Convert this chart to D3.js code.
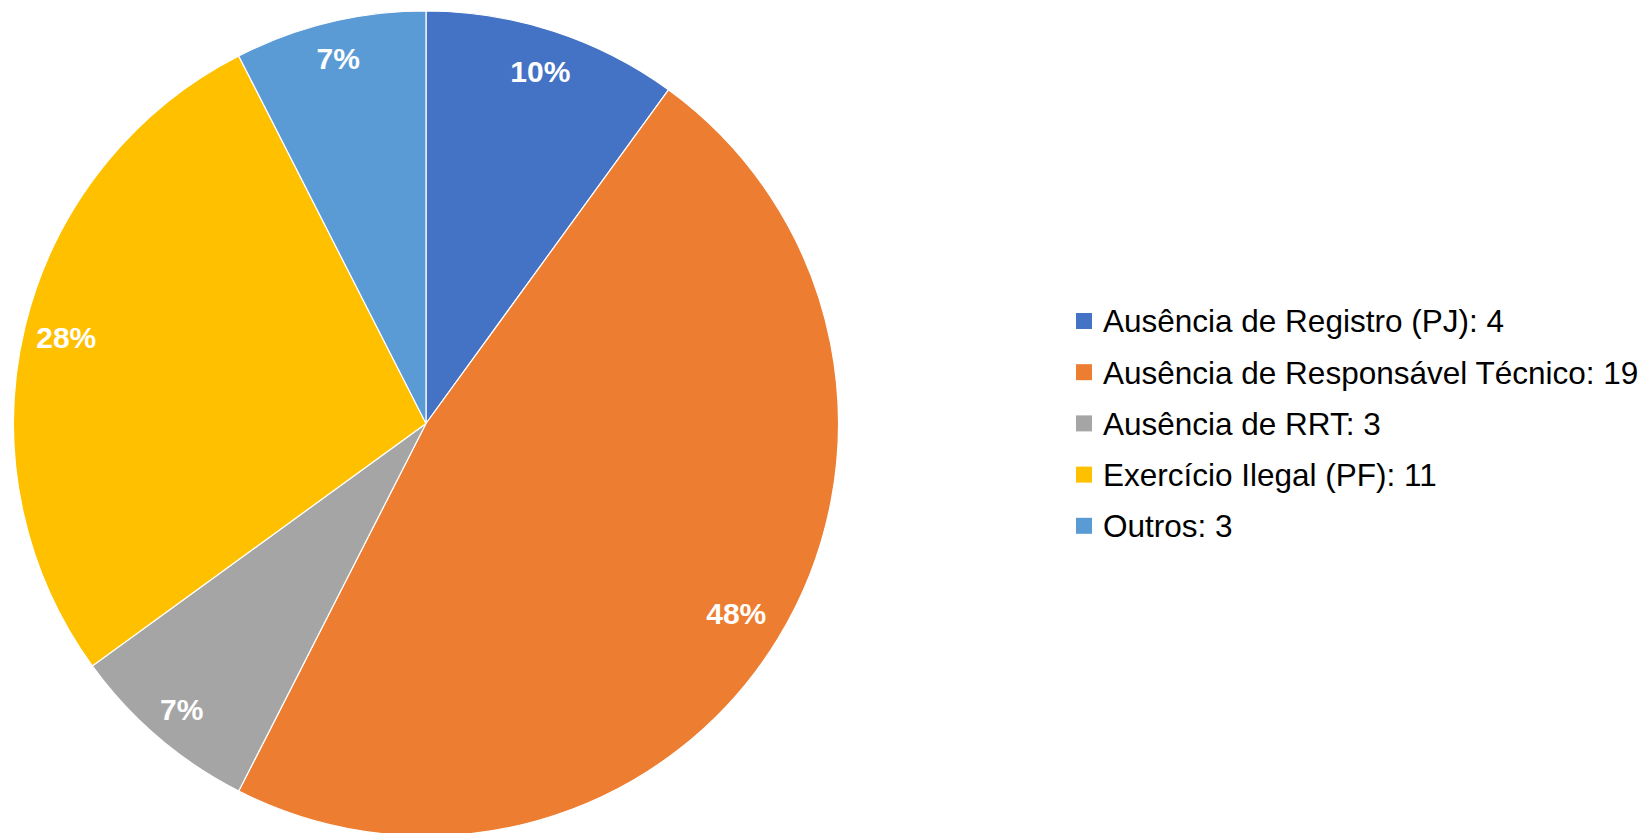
<!DOCTYPE html>
<html>
<head>
<meta charset="utf-8">
<script src="https://cdn.jsdelivr.net/npm/d3@7"></script>
<style>
  body { margin: 0; background: #fff; }
  svg { display: block; }
</style>
</head>
<body>
<div id="chart"></div>
<script>
// Data
const categories = ["Ausência de Registro (PJ)", "Ausência de Responsável Técnico", "Ausência de RRT", "Exercício Ilegal (PF)", "Outros"];
const counts = [4, 19, 3, 11, 3];
const pctLabels = ["10%", "48%", "7%", "28%", "7%"];
const colors = ["#4472C4", "#ED7D31", "#A5A5A5", "#FFC000", "#5B9BD5"];

const width = 1652;
const height = 833;
const cx = 426, cy = 423.5, radius = 412.5;

const data = categories.map((c, i) => ({ name: c, count: counts[i], label: pctLabels[i] }));

const color = d3.scaleOrdinal()
                .domain(categories)
                .range(colors);

const svg = d3.select("#chart")
  .append("svg")
  .attr("width", width)
  .attr("height", height);

// Pie
const pie = d3.pie()
  .value(d => d.count)
  .sort(null);

const arc = d3.arc()
  .innerRadius(0)
  .outerRadius(radius);

// small slices get their label a bit further out, like the original
const labelPos = function(d) {
  const share = (d.endAngle - d.startAngle) / (2 * Math.PI);
  const r = radius * (share < 0.09 ? 0.912 : (share > 0.4 ? 0.882 : 0.897));
  return d3.arc().innerRadius(r).outerRadius(r).centroid(d);
}

const g = svg.append("g")
  .attr("transform", `translate(${cx},${cy})`);

const arcs = pie(data);

g.selectAll(".slice")
  .data(arcs)
  .enter()
  .append("path")
    .attr("class", "slice")
    .attr("d", arc)
    .style("fill", d => color(d.data.name))
    .style("stroke", "#fff")
    .style("stroke-width", 1.2);

// Percent labels
g.selectAll(".pct")
  .data(arcs)
  .enter()
  .append("text")
    .attr("class", "pct")
    .attr("transform", d => `translate(${labelPos(d)})`)
    .attr("text-anchor", "middle")
    .attr("dy", "0.36em")
    .style("font-family", "'Liberation Sans', Arial, sans-serif")
    .style("font-weight", "bold")
    .style("font-size", "30px")
    .style("fill", "#fff")
    .text(d => d.data.label);

// Legend
const legend = svg.append("g")
  .attr("transform", "translate(1076, 321)");

const rows = legend.selectAll(".row")
  .data(data)
  .enter()
  .append("g")
    .attr("class", "row")
    .attr("transform", (d, i) => `translate(0, ${i * 51.2})`);

rows.append("rect")
  .attr("x", 0)
  .attr("y", -8)
  .attr("width", 16)
  .attr("height", 16)
  .style("fill", d => color(d.name));

rows.append("text")
  .attr("x", 27)
  .attr("dy", "0.36em")
  .style("font-family", "'Liberation Sans', Arial, sans-serif")
  .style("font-size", "31.5px")
  .style("fill", "#000")
  .text(d => d.name + ": " + d.count);
</script>
</body>
</html>
